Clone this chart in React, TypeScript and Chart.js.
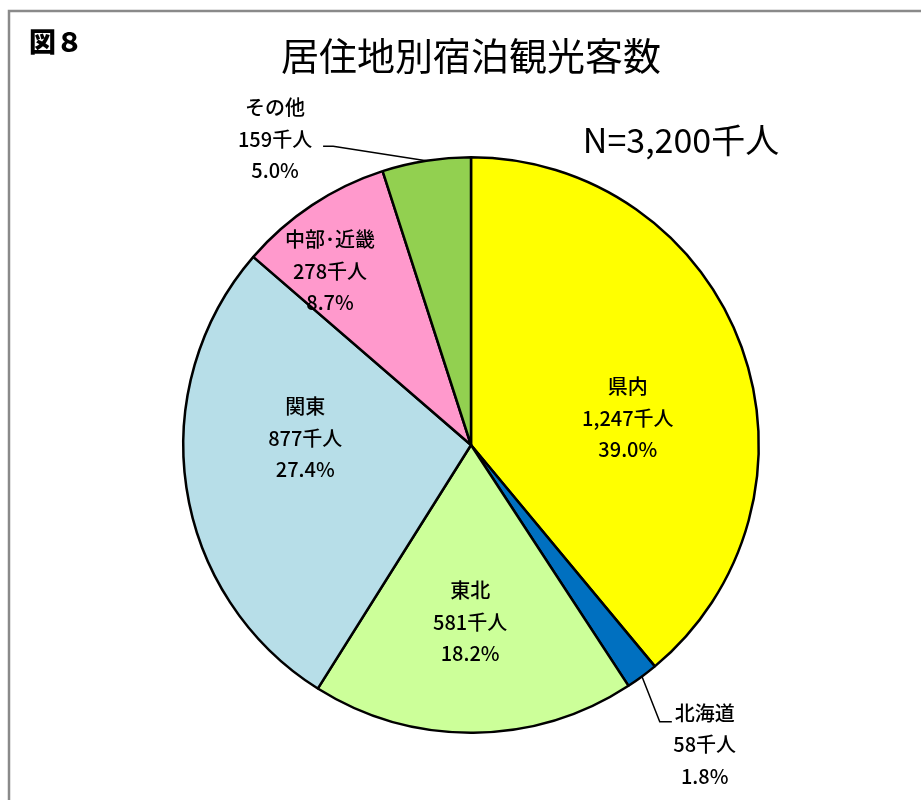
import React, { useEffect, useRef } from "react";
import { Chart, registerables } from "chart.js";

Chart.register(...registerables);

const categories = ["県内", "北海道", "東北", "関東", "中部･近畿", "その他"];
const visitors = [1247, 58, 581, 877, 278, 159];
const shares = ["39.0%", "1.8%", "18.2%", "27.4%", "8.7%", "5.0%"];
const colors = ["#FFFF00", "#0070C0", "#CCFF99", "#B7DEE8", "#FF99CC", "#92D050"];
const titleText = "居住地別宿泊観光客数";
const figLabel = "図８";
const totalLabel = "N=3,200千人";
const unit = "千人";

// label centres relative to the pie centre, in units of the pie radius
const labelOffsets: number[][] = [
  [0.545, -0.094],
  [0.812, 1.042],
  [-0.003, 0.615],
  [-0.576, -0.024],
  [-0.49, -0.604],
  [-0.681, -1.0625],
];
// leader line elbows (elbow point, end point) in radius units; null = none
const leaders: (number[][] | null)[] = [
  null,
  [[0.656, 0.962], [0.698, 0.962]],
  null,
  null,
  null,
  [[-0.479, -1.038], [-0.514, -1.038]],
];

const LABEL_FONT = '500 20px "Noto Sans CJK JP", sans-serif';

function fmt(n: number) {
  return n.toLocaleString("en-US");
}

const decorPlugin = {
  id: "decor",
  beforeDraw(chart: any) {
    const ctx = chart.ctx;
    ctx.save();
    ctx.fillStyle = "#ffffff";
    ctx.fillRect(0, 0, chart.width, chart.height);
    ctx.strokeStyle = "#8a8a8a";
    ctx.lineWidth = 2.5;
    ctx.beginPath();
    ctx.moveTo(9, chart.height);
    ctx.lineTo(9, 11);
    ctx.lineTo(chart.width, 11);
    ctx.stroke();
    ctx.restore();
  },
  afterDraw(chart: any) {
    const ctx = chart.ctx;
    const meta = chart.getDatasetMeta(0);
    const arcs = meta.data;
    if (!arcs.length) return;
    const cx = arcs[0].x;
    const cy = arcs[0].y;
    const R = arcs[0].outerRadius;
    ctx.save();
    ctx.fillStyle = "#000";
    ctx.textBaseline = "middle";
    // figure label
    ctx.textAlign = "left";
    ctx.font = '900 27px "Noto Sans CJK JP", sans-serif';
    ctx.fillText(figLabel, 29, 42);
    // title
    ctx.textAlign = "center";
    ctx.font = '38px "Noto Sans CJK JP", sans-serif';
    ctx.fillText(titleText, cx, 56);
    // total
    ctx.font = '34px "Noto Sans CJK JP", sans-serif';
    ctx.fillText(totalLabel, 681, 140);

    // leader lines
    ctx.strokeStyle = "#000";
    ctx.lineWidth = 1.5;
    arcs.forEach((arc: any, i: number) => {
      const ld = leaders[i];
      if (!ld) return;
      const mid = (arc.startAngle + arc.endAngle) / 2;
      const sx = cx + Math.cos(mid) * R;
      const sy = cy + Math.sin(mid) * R;
      ctx.beginPath();
      ctx.moveTo(sx, sy);
      ctx.lineTo(cx + ld[0][0] * R, cy + ld[0][1] * R);
      ctx.lineTo(cx + ld[1][0] * R, cy + ld[1][1] * R);
      ctx.stroke();
    });

    // data labels
    ctx.font = LABEL_FONT;
    ctx.textAlign = "center";
    arcs.forEach((_arc: any, i: number) => {
      const lx = cx + labelOffsets[i][0] * R;
      const ly = cy + labelOffsets[i][1] * R;
      const lines = [categories[i], fmt(visitors[i]) + unit, shares[i]];
      lines.forEach((t, k) => {
        ctx.fillText(t, lx, ly + (k - 1) * 31.5);
      });
    });
    ctx.restore();
  },
};

export default function App() {
  const ref = useRef<HTMLCanvasElement | null>(null);
  useEffect(() => {
    if (!ref.current) return;
    const chart = new Chart(ref.current, {
      type: "pie",
      data: {
        labels: categories,
        datasets: [
          {
            data: visitors,
            backgroundColor: colors,
            borderColor: "#000000",
            borderWidth: 2.5,
          },
        ],
      },
      options: {
        responsive: false,
        animation: false,
        layout: { padding: { left: 182, right: 161, top: 156, bottom: 66 } },
        plugins: {
          legend: { display: false },
          tooltip: { enabled: false },
          title: { display: false },
        },
      },
      plugins: [decorPlugin],
    });
    return () => chart.destroy();
  }, []);
  return (
    <div style={{ position: "absolute", left: 0, top: 0, width: 921, height: 800, background: "#fff" }}>
      <canvas ref={ref} width={921} height={800} />
    </div>
  );
}
